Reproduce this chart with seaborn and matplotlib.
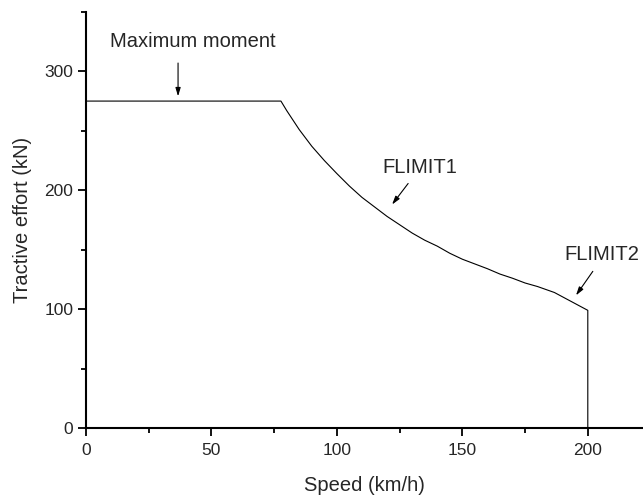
import matplotlib
matplotlib.use("Agg")
import matplotlib.pyplot as plt
import seaborn as sns
import pandas as pd
from matplotlib.ticker import MultipleLocator

# Tractive effort characteristic (speed in km/h, effort in kN)
speed = [0, 77.7, 80, 85, 90, 95, 100, 105, 110, 115, 120, 125, 130, 135, 140, 145,
         150, 155, 160, 165, 170, 175, 180, 186.7, 200, 200]
effort = [275, 275, 267, 251, 237, 225, 214, 203.5, 194, 186, 178, 171, 164, 158, 153, 147,
          142, 138, 134, 129.5, 126, 122, 119, 114, 99, 0]

x_ticks = [0, 50, 100, 150, 200]
y_ticks = [0, 100, 200, 300]

df = pd.DataFrame({"Speed (km/h)": speed, "Tractive effort (kN)": effort})

sns.set_style("white")
plt.rcParams["font.family"] = ["Liberation Sans", "DejaVu Sans"]

fig = plt.figure(figsize=(6.43, 4.96), dpi=100)
ax = fig.add_axes([0.1337, 0.137, 0.8663, 0.839])

sns.lineplot(data=df, x="Speed (km/h)", y="Tractive effort (kN)", sort=False,
             estimator=None, color="black", linewidth=0.8, ax=ax)

ax.set_xlim(0, 222)
ax.set_ylim(0, 350)
ax.set_xticks(x_ticks)
ax.set_yticks(y_ticks)
ax.xaxis.set_minor_locator(MultipleLocator(25))
ax.yaxis.set_minor_locator(MultipleLocator(50))

for side in ("top", "right"):
    ax.spines[side].set_visible(False)
for side in ("left", "bottom"):
    ax.spines[side].set_linewidth(1.5)
    ax.spines[side].set_color("black")

ax.tick_params(which="major", direction="out", length=6, width=1.3,
               labelsize=12.5, color="black", left=True, bottom=True, pad=3)
ax.tick_params(axis="x", which="major", pad=5)
ax.tick_params(which="minor", direction="out", length=3.5, width=1.3,
               color="black", left=True, bottom=True)

ax.set_xlabel("Speed (km/h)", fontsize=14.5, labelpad=13)
ax.set_ylabel("Tractive effort (kN)", fontsize=14.5, labelpad=9)

arrow = dict(arrowstyle="-|>,head_length=0.5,head_width=0.15", color="black", lw=0.8,
             shrinkA=0, shrinkB=0)
ax.annotate("", xy=(36.7, 279), xytext=(36.7, 307), arrowprops=arrow)
ax.text(42.5, 325, "Maximum moment", fontsize=14.5, ha="center", va="center")

ax.annotate("", xy=(122, 188), xytext=(128.4, 205.7), arrowprops=arrow)
ax.text(133, 219, "FLIMIT1", fontsize=14.5, ha="center", va="center")

ax.annotate("", xy=(195.3, 111.6), xytext=(202, 131.8), arrowprops=arrow)
ax.text(205.5, 146, "FLIMIT2", fontsize=14.5, ha="center", va="center")

fig.savefig("out.png", dpi=100, facecolor="white")
